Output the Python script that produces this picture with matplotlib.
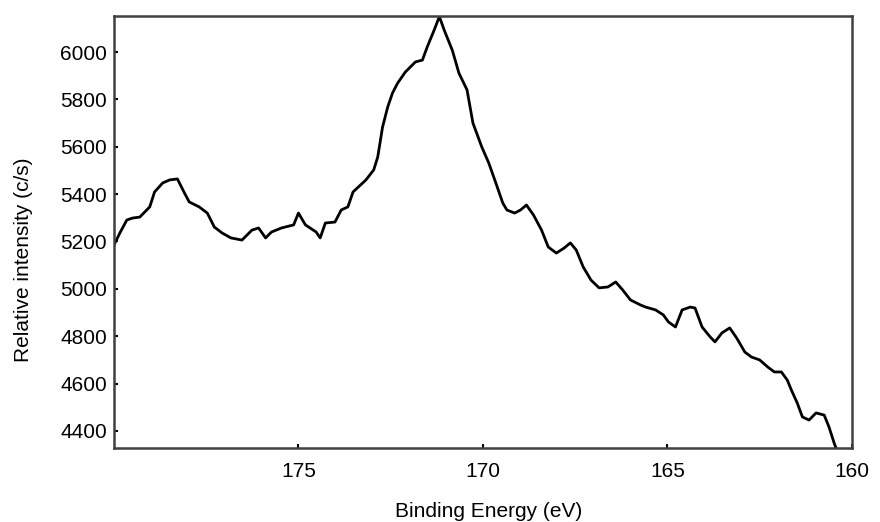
import matplotlib.pyplot as plt

plt.rcParams['font.family'] = ['Liberation Sans', 'DejaVu Sans']

# XPS spectrum (binding energy in eV, intensity in c/s)
energy = [180.00, 179.84, 179.65, 179.49, 179.30, 179.03, 178.90, 178.68, 178.49,
          178.28, 178.09, 177.96, 177.69, 177.47, 177.28, 177.07, 176.83, 176.53,
          176.26, 176.08, 175.89, 175.73, 175.46, 175.13, 175.00, 174.81, 174.52,
          174.41, 174.27, 174.01, 173.84, 173.66, 173.52, 173.17, 172.96, 172.85,
          172.72, 172.58, 172.45, 172.31, 172.10, 171.83, 171.64, 171.51, 171.32,
          171.18, 171.05, 170.83, 170.65, 170.43, 170.27, 170.03, 169.84, 169.62,
          169.46, 169.35, 169.14, 168.98, 168.82, 168.63, 168.41, 168.23, 168.01,
          167.80, 167.63, 167.47, 167.28, 167.07, 166.85, 166.61, 166.40, 166.21,
          166.00, 165.73, 165.59, 165.32, 165.11, 164.97, 164.78, 164.60, 164.38,
          164.25, 164.06, 163.84, 163.71, 163.52, 163.31, 163.12, 162.90, 162.72,
          162.50, 162.28, 162.10, 161.91, 161.75, 161.64, 161.48, 161.34, 161.16,
          160.97, 160.75, 160.62, 160.48, 160.43]
intensity = [5185, 5236, 5291, 5299, 5303, 5346, 5409, 5447, 5460,
             5464, 5405, 5367, 5346, 5320, 5261, 5236, 5215, 5206,
             5248, 5257, 5215, 5240, 5257, 5270, 5320, 5270, 5240,
             5215, 5278, 5282, 5333, 5346, 5409, 5460, 5502, 5557,
             5683, 5768, 5827, 5869, 5916, 5958, 5966, 6021, 6093,
             6150, 6093, 6008, 5911, 5840, 5700, 5599, 5531, 5434,
             5362, 5333, 5320, 5333, 5354, 5312, 5248, 5177, 5151,
             5172, 5194, 5164, 5092, 5037, 5004, 5008, 5029, 4995,
             4953, 4932, 4923, 4911, 4890, 4860, 4839, 4911, 4923,
             4919, 4839, 4797, 4776, 4814, 4835, 4792, 4733, 4712,
             4700, 4670, 4649, 4649, 4615, 4573, 4518, 4459, 4446,
             4476, 4467, 4417, 4349, 4328]

x_ticks = [175, 170, 165, 160]
y_ticks = [4400, 4600, 4800, 5000, 5200, 5400, 5600, 5800, 6000]

fig = plt.figure(figsize=(8.8, 5.22), dpi=100)
ax = fig.add_axes([0.1295, 0.1418, 0.8385, 0.8275])

ax.plot(energy, intensity, color='black', lw=2)

ax.set_xlim(180, 160)
ax.set_ylim(4328, 6152)
ax.set_xticks(x_ticks)
ax.set_yticks(y_ticks)
ax.tick_params(direction='in', length=3, width=1.5, labelsize=15, color='black')
ax.tick_params(axis='x', pad=10)
ax.tick_params(axis='y', pad=5)

for s in ax.spines.values():
    s.set_linewidth(1.8)
    s.set_color('#404040')

ax.set_xlabel('Binding Energy (eV)', fontsize=15)
ax.set_ylabel('Relative intensity (c/s)', fontsize=15)
ax.xaxis.set_label_coords(0.508, -0.125)
ax.yaxis.set_label_coords(-0.110, 0.435)

fig.savefig('out.png', dpi=100)
